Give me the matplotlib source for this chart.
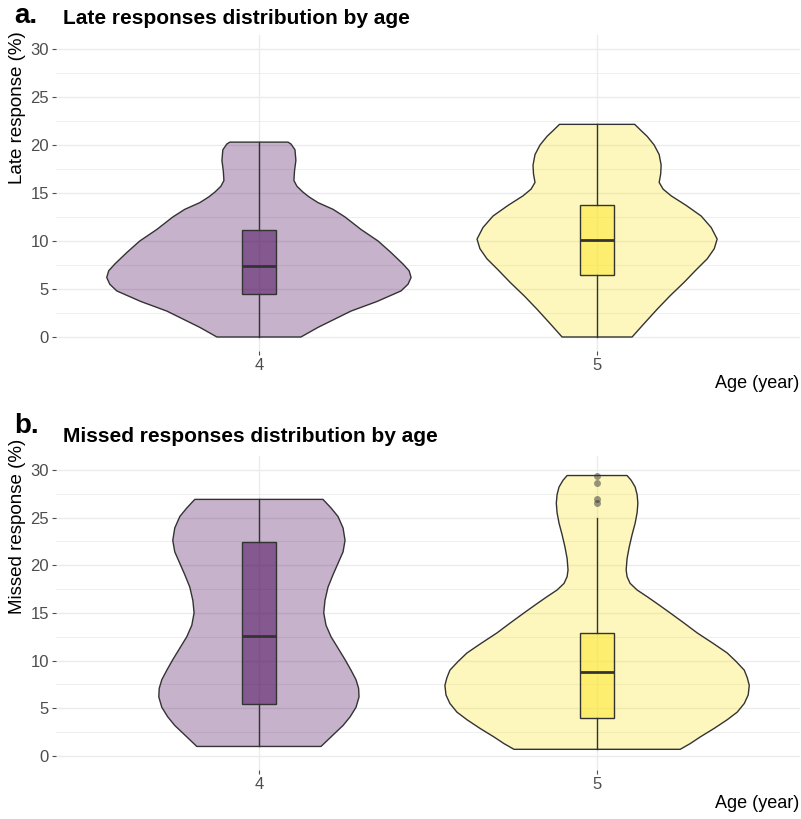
import matplotlib
matplotlib.use('Agg')
import matplotlib.pyplot as plt
import numpy as np

plt.rcParams['font.family'] = ['Liberation Sans', 'DejaVu Sans']

ages = ['4', '5']
fills = ['#440154', '#FDE725']

# violin outlines: value (%) and relative density (max = 1)
late_v4 = [0, 1.0, 2.7, 3.7, 4.8, 5.5, 6.2, 6.9, 7.6, 8.8, 10.0, 11.2, 12.5, 13.3, 14.0,
           14.6, 15.1, 15.7, 16.3, 17.3, 18.4, 19.5, 20.1, 20.3]
late_d4 = [0.276, 0.388, 0.605, 0.776, 0.934, 0.98, 1.0, 0.987, 0.947, 0.868, 0.783, 0.671,
           0.566, 0.487, 0.388, 0.329, 0.289, 0.25, 0.23, 0.234, 0.243, 0.237, 0.211, 0.191]
late_v5 = [0, 1.4, 2.9, 4.3, 5.7, 7.0, 8.15, 9.2, 10.2, 11.4, 12.6, 13.7, 14.7, 15.4, 16.1,
           17.0, 17.9, 19.0, 20.0, 20.9, 21.5, 22.15]
late_d5 = [0.23, 0.309, 0.395, 0.48, 0.572, 0.651, 0.724, 0.77, 0.789, 0.75, 0.684, 0.586,
           0.487, 0.434, 0.408, 0.418, 0.421, 0.408, 0.375, 0.329, 0.289, 0.247]

missed_v4 = [1.0, 1.7, 2.4, 3.2, 4.1, 5.1, 6.2, 7.1, 8.0, 9.0, 10.1, 11.3, 12.5, 13.7, 15.0,
             16.3, 17.7, 19.0, 20.2, 21.4, 22.6, 23.9, 25.1, 26.0, 26.9]
missed_d4 = [0.408, 0.454, 0.5, 0.553, 0.599, 0.638, 0.658, 0.655, 0.638, 0.605, 0.566, 0.52,
             0.474, 0.441, 0.426, 0.434, 0.454, 0.487, 0.52, 0.553, 0.566, 0.553, 0.52, 0.474, 0.421]
missed_v5 = [0.7, 1.3, 2.0, 2.9, 3.8, 4.6, 5.5, 6.4, 7.4, 8.2, 9.0, 9.9, 10.8, 11.8, 12.9, 14.0,
             15.0, 15.9, 16.7, 17.4, 18.1, 18.8, 19.5, 20.7, 21.9, 23.2, 24.4, 25.5, 26.5, 27.4,
             28.2, 28.9, 29.4]
missed_d5 = [0.546, 0.612, 0.678, 0.77, 0.855, 0.921, 0.967, 0.993, 1.0, 0.987, 0.967, 0.914,
             0.855, 0.763, 0.658, 0.566, 0.48, 0.401, 0.329, 0.263, 0.217, 0.197, 0.191, 0.197,
             0.211, 0.23, 0.25, 0.263, 0.268, 0.263, 0.25, 0.224, 0.197]

# box statistics: whisker low, q1, median, q3, whisker high
late_box4 = [0, 4.5, 7.35, 11.1, 20.3]
late_box5 = [0, 6.45, 10.1, 13.8, 22.15]
missed_box4 = [1.0, 5.5, 12.6, 22.4, 26.9]
missed_box5 = [0.7, 3.95, 8.85, 12.85, 25.0]
missed_out5 = [26.5, 26.9, 28.6, 29.4]

fig = plt.figure(figsize=(8.01, 8.19), dpi=100)
W, H = 801, 819


def panel(top, bottom, violins, boxes, fliers):
    ax = fig.add_axes([56 / W, 1 - bottom / H, 744 / W, (bottom - top) / H])
    for i, (v, d) in enumerate(violins):
        pos = i + 1
        half = 0.45 * np.array(d)
        ax.fill_betweenx(v, pos - half, pos + half, facecolor=fills[i], alpha=0.3,
                         edgecolor='none', zorder=2)
        ax.fill_betweenx(v, pos - half, pos + half, facecolor='none',
                         edgecolor='#333333', lw=1.0, zorder=3)
    stats = []
    for i, b in enumerate(boxes):
        stats.append(dict(whislo=b[0], q1=b[1], med=b[2], q3=b[3], whishi=b[4],
                          fliers=fliers[i]))
    bp = ax.bxp(stats, positions=[1, 2], widths=0.1, patch_artist=True, showcaps=False,
                boxprops=dict(edgecolor='#333333', lw=1.0),
                whiskerprops=dict(color='#333333', lw=1.0),
                medianprops=dict(color='#333333', lw=2.0),
                flierprops=dict(marker='o', markerfacecolor='#333333', markeredgecolor='none',
                                markersize=5, alpha=0.5))
    for patch, c in zip(bp['boxes'], fills):
        patch.set_facecolor(matplotlib.colors.to_rgba(c, 0.5))
        patch.set_zorder(4)
    for k in ['whiskers', 'medians', 'fliers']:
        for l in bp[k]:
            l.set_zorder(5)
    ax.set_xlim(0.4, 2.6)
    ax.set_ylim(-1.5, 31.5)
    ax.set_xticks([1, 2])
    ax.set_xticklabels(ages)
    ax.set_yticks([0, 5, 10, 15, 20, 25, 30])
    ax.set_yticks(np.arange(2.5, 30, 5), minor=True)
    ax.grid(True, which='major', color='#EBEBEB', lw=1.0)
    ax.grid(True, which='minor', axis='y', color='#EBEBEB', lw=0.6)
    ax.tick_params(which='major', length=3, width=0.8, color='#4D4D4D', labelcolor='#4D4D4D',
                   labelsize=12, pad=2)
    ax.tick_params(which='minor', length=0)
    ax.set_axisbelow(True)
    for s in ax.spines.values():
        s.set_visible(False)
    return ax


panel(34.6, 351.4, [(late_v4, late_d4), (late_v5, late_d5)],
      [late_box4, late_box5], [[], []])
panel(455.5, 770.3, [(missed_v4, missed_d4), (missed_v5, missed_d5)],
      [missed_box4, missed_box5], [[], missed_out5])

fig.text(14 / W, 1 - 16 / H, 'a.', fontsize=20, fontweight='bold', va='center')
fig.text(63 / W, 1 - 18 / H, 'Late responses distribution by age', fontsize=15,
         fontweight='bold', va='center')
fig.text(14 / W, 1 - 426 / H, 'b.', fontsize=20, fontweight='bold', va='center')
fig.text(63 / W, 1 - 437 / H, 'Missed responses distribution by age', fontsize=15,
         fontweight='bold', va='center')

fig.text(18 / W, 1 - 31 / H, 'Late response (%)', rotation=90, fontsize=13.5, ha='center', va='top')
fig.text(18 / W, 1 - 439 / H, 'Missed response (%)', rotation=90, fontsize=13.5, ha='center', va='top')
fig.text(799 / W, 1 - 383 / H, 'Age (year)', fontsize=13, ha='right', va='center')
fig.text(799 / W, 1 - 803 / H, 'Age (year)', fontsize=13, ha='right', va='center')

fig.savefig('out.png', dpi=100)
